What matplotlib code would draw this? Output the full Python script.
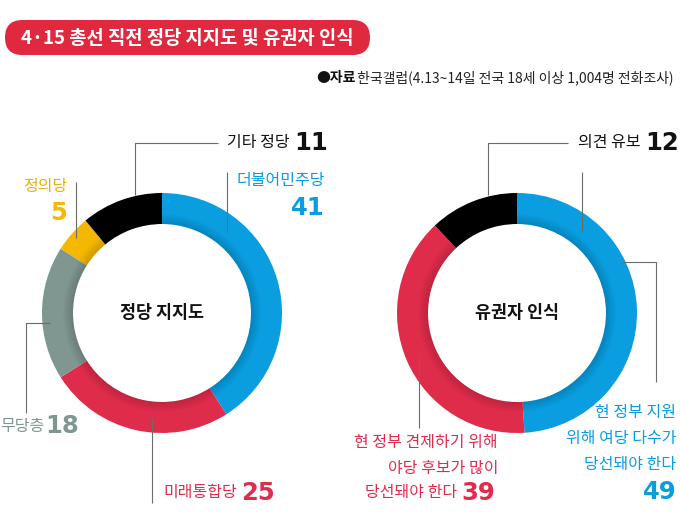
import numpy as np
import matplotlib
matplotlib.use('Agg')
import matplotlib.pyplot as plt
from matplotlib.patches import FancyBboxPatch, Wedge

plt.rcParams['font.family'] = ['Noto Sans CJK KR', 'DejaVu Sans']

W, H = 680, 523

title = '4·15 총선 직전 정당 지지도 및 유권자 인식'
source_bold = '●자료'
source_text = ' 한국갤럽(4.13~14일 전국 18세 이상 1,004명 전화조사)'

# 정당 지지도 (시계방향, 12시 시작)
party_labels = ['더불어민주당', '미래통합당', '무당층', '정의당', '기타 정당']
party_values = [41, 25, 18, 5, 11]
party_colors = ['#0a9de0', '#e02c4b', '#7f9691', '#f4b800', '#000000']

# 유권자 인식
voter_labels = ['현 정부 지원\n위해 여당 다수가\n당선돼야 한다',
                '현 정부 견제하기 위해\n야당 후보가 많이\n당선돼야 한다',
                '의견 유보']
voter_values = [49, 39, 12]
voter_colors = ['#0a9de0', '#e02c4b', '#000000']

R_OUT, R_W = 120, 31
LINE_C = '#6b6b6b'
NUM_FONT = 'DejaVu Sans'
NUM_SIZE = 17.5
LAB_SIZE = 11.5


def y(py):
    return H - py


fig = plt.figure(figsize=(W / 100, H / 100), dpi=100)
ax = fig.add_axes([0, 0, 1, 1])
ax.set_aspect('equal')


def donut(cx, cy, values, colors, label):
    ax.pie(values, colors=colors, startangle=90, counterclock=False,
           center=(cx, y(cy)), radius=R_OUT,
           wedgeprops=dict(width=R_W, linewidth=0))
    # soft shadow at the inner edge
    r_in = R_OUT - R_W
    for i in range(6):
        ax.add_patch(Wedge((cx, y(cy)), r_in + 1.6 * (6 - i), 0, 360,
                           width=1.6 * (6 - i), color='black', alpha=0.025, lw=0))
    ax.text(cx, y(cy), label, ha='center', va='center', fontsize=12.5,
            fontweight='bold', color='#111111')


def leader(pts):
    xs = [p[0] for p in pts]
    ys = [y(p[1]) for p in pts]
    ax.plot(xs, ys, color=LINE_C, lw=0.8, solid_capstyle='butt')


def num(x, py, v, color, ha):
    ax.text(x, y(py), str(v), ha=ha, va='center', fontsize=NUM_SIZE,
            fontweight='heavy', family=NUM_FONT, color=color)


def lab(x, py, s, color, ha='right'):
    ax.text(x, y(py), s, ha=ha, va='center', fontsize=LAB_SIZE, color=color)


donut(162, 313, party_values, party_colors, '정당 지지도')
donut(517, 313, voter_values, voter_colors, '유권자 인식')

ax.set_xlim(0, W)
ax.set_ylim(0, H)
ax.axis('off')

# title pill
ax.add_patch(FancyBboxPatch((5, y(55)), 365, 35,
                            boxstyle='round,pad=0,rounding_size=17.5',
                            fc='#e0283f', ec='none'))
ax.text(187, y(38), title, ha='center', va='center', color='white',
        fontsize=13.5, fontweight='bold')

# source
t = ax.text(674, y(78), source_text, ha='right', va='center', fontsize=10,
            color='#222222')
fig.canvas.draw()
bb = t.get_window_extent(renderer=fig.canvas.get_renderer())
x0 = ax.transData.inverted().transform((bb.x0, bb.y0))[0]
ax.text(x0 + 1, y(78), source_bold, ha='right', va='center', fontsize=10,
        fontweight='bold', color='#111111')

# ---- left donut labels ----
lab(290, 143, party_labels[4], '#111111')
num(294, 143, party_values[4], '#111111', 'left')
leader([(218, 143), (135, 143), (135, 195)])

lab(325, 181, party_labels[0], party_colors[0])
num(325, 208, party_values[0], party_colors[0], 'right')
leader([(227, 172), (227, 232)])

lab(67, 186, party_labels[3], '#e8b10a')
num(67, 213, party_values[3], '#f4b800', 'right')
leader([(76, 182), (76, 238)])

lab(44, 426, party_labels[2], party_colors[2])
num(45, 426, party_values[2], party_colors[2], 'left')
leader([(50, 323), (26, 323), (26, 413)])

lab(237, 493, party_labels[1], party_colors[1])
num(241, 493, party_values[1], party_colors[1], 'left')
leader([(152, 418), (152, 503)])

# ---- right donut labels ----
lab(641, 143, voter_labels[2], '#111111')
num(645, 143, voter_values[2], '#111111', 'left')
leader([(568, 143), (488, 143), (488, 195)])
leader([(582, 172), (582, 231)])

for i, line in enumerate(voter_labels[0].split('\n')):
    lab(676, 412 + 26 * i, line, voter_colors[0])
num(677, 492, voter_values[0], voter_colors[0], 'right')
leader([(622, 262), (656, 262), (656, 382)])

red_lines = voter_labels[1].split('\n')
for i, line in enumerate(red_lines[:2]):
    lab(498, 443 + 25 * i, line, voter_colors[1])
lab(457, 493, red_lines[2], voter_colors[1])
num(461, 493, voter_values[1], voter_colors[1], 'left')
leader([(419, 353), (419, 428)])

fig.savefig('out.png', dpi=100, facecolor='white')
